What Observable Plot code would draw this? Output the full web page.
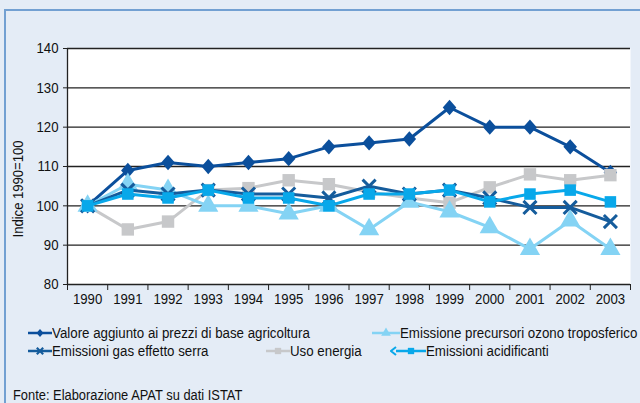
<!DOCTYPE html>
<html><head><meta charset="utf-8">
<script src="https://cdn.jsdelivr.net/npm/d3@7"></script>
<script src="https://cdn.jsdelivr.net/npm/@observablehq/plot@0.6"></script>
<style>
body{margin:0;background:#e4ecf6;width:640px;height:403px;overflow:hidden;position:relative;font-family:"Liberation Sans",Arial,sans-serif;color:#111;}
#frame{position:absolute;left:4px;top:9px;right:0;bottom:0;border-left:2px solid #72a0d2;border-top:2px solid #72a0d2;}
#chart{position:absolute;left:0;top:0;}
.lab{position:absolute;font-size:14px;white-space:nowrap;line-height:16px;transform-origin:0 50%;transform:scaleX(0.95);}
#fonte{transform:scaleX(0.92);}
.sw{position:absolute;}
#ytitle{position:absolute;left:18px;top:189px;transform:translate(-50%,-50%) rotate(-90deg) scaleX(0.9);font-size:14.5px;white-space:nowrap;}
</style></head>
<body>
<div id="frame"></div>
<div id="chart"></div>
<div id="ytitle">Indice 1990=100</div>
<div id="legend"></div>
<div class="lab" id="fonte" style="left:13px;top:387px;">Fonte: Elaborazione APAT su dati ISTAT</div>
<script>
const years = [1990,1991,1992,1993,1994,1995,1996,1997,1998,1999,2000,2001,2002,2003];
const valoreAggiunto = [100,109,111,110,111,112,115,116,117,125,120,120,115,108.5];
const gasSerra = [100,104,103,104,103,103,102,105,103,104,102,99.6,99.6,96];
const usoEnergia = [100,94,96,104,104.5,106.5,105.5,103.5,102,100.8,104.7,108,106.5,107.8];
const ozono = [100,105.5,104,100,100,98,100,94,101,98.5,94.5,89,96.2,89];
const acidificanti = [100,103,102,104,102,102,100,103,103,104,101,103,104,101];
const yTicks = [80,90,100,110,120,130,140];

// rhombus marker closer to the reference (wider than d3's diamond)
const rhombus = {draw(ctx, size) {
  const h = Math.sqrt(size) * 0.62, w = h * 0.88;
  ctx.moveTo(0, -h); ctx.lineTo(w, 0); ctx.lineTo(0, h); ctx.lineTo(-w, 0); ctx.closePath();
}};

const series = [
  {name:"Valore aggiunto ai prezzi di base agricoltura", values:valoreAggiunto, color:"#0b4f9c", symbol:rhombus, r:7},
  {name:"Uso energia", values:usoEnergia, color:"#c7c8ca", symbol:"square", r:7},
  {name:"Emissione precursori ozono troposferico", values:ozono, color:"#84d3f4", symbol:"triangle", r:7.5},
  {name:"Emissioni gas effetto serra", values:gasSerra, color:"#155c9c", symbol:"times", r:6},
  {name:"Emissioni acidificanti", values:acidificanti, color:"#08a8ea", symbol:"square", r:6.5}
];
const rows = series.flatMap(s => s.values.map((v,i) => ({series:s.name, year:years[i], value:v})));
const bounds = d3.range(years[0]-0.5, years[years.length-1]+1, 1);

const marks = [
  Plot.frame({fill:"white", stroke:null}),
  Plot.ruleY(yTicks.filter(t => t > 80), {stroke:"#222", strokeWidth:1.3}),
  Plot.axisY({ticks:yTicks, tickSize:4, tickPadding:5, label:null, stroke:"#222", fontSize:15}),
  Plot.axisX({ticks:bounds, tickSize:6, tickFormat:() => "", label:null, stroke:"#222"}),
  Plot.axisX({ticks:years, tickSize:0, tickPadding:9, tickFormat:d => String(d), label:null, fontSize:15}),
  Plot.ruleY([80], {stroke:"#222", strokeWidth:1.3}),
  Plot.ruleX([bounds[0]], {stroke:"#222", strokeWidth:1.3})
];
for (const s of series) {
  const data = rows.filter(d => d.series === s.name);
  marks.push(Plot.line(data, {x:"year", y:"value", stroke:s.color, strokeWidth:3}));
  if (s.symbol === "times")
    marks.push(Plot.dot(data, {x:"year", y:"value", symbol:"times", stroke:s.color, strokeWidth:3, r:s.r}));
  else
    marks.push(Plot.dot(data, {x:"year", y:"value", symbol:s.symbol, fill:s.color, stroke:null, r:s.r}));
}

const chart = Plot.plot({
  width:640, height:308,
  marginTop:48, marginBottom:24, marginLeft:67, marginRight:10,
  x:{domain:[bounds[0], bounds[bounds.length-1]]},
  y:{domain:[80,140]},
  style:{background:"transparent", fontFamily:"'Liberation Sans',Arial,sans-serif", fontSize:"15px", color:"#111"},
  marks
});
// condense the tick labels horizontally (reference uses a condensed face)
chart.querySelectorAll('g[aria-label$="tick label"] text').forEach(t => {
  const tr = t.getAttribute("transform");
  if (tr) t.setAttribute("transform", tr + " scale(0.88,1)");
  else {
    const x = +(t.getAttribute("x") || 0);
    t.setAttribute("transform", `translate(${x},0) scale(0.88,1) translate(${-x},0)`);
  }
});
document.getElementById("chart").append(chart);

// legend
const legendItems = [
  {s:series[0], x:28, y:333, tx:52},
  {s:series[2], x:372, y:333, tx:400},
  {s:series[3], x:28, y:351, tx:52},
  {s:series[1], x:266, y:351, tx:290},
  {s:series[4], x:390, y:351, tx:426, arrow:true}
];
const leg = document.getElementById("legend");
for (const it of legendItems) {
  const w = it.tx - it.x;
  const svg = d3.create("svg").attr("class","sw").attr("width",w).attr("height",12)
    .style("left", it.x + "px").style("top", (it.y - 6) + "px");
  svg.append("line").attr("x1", it.arrow ? 6 : 0).attr("x2", w).attr("y1",6).attr("y2",6)
    .attr("stroke", it.s.color).attr("stroke-width", 2.5);
  if (it.arrow) svg.append("path").attr("d","M6,2 L1,6 L6,10").attr("fill","none").attr("stroke",it.s.color).attr("stroke-width",2);
  const type = it.s.symbol === rhombus ? rhombus : it.s.symbol === "square" ? d3.symbolSquare : it.s.symbol === "triangle" ? d3.symbolTriangle : d3.symbolTimes;
  const sym = d3.symbol().type(type).size(it.s.symbol === "times" ? 28 : 40);
  const p = svg.append("path").attr("d", sym()).attr("transform", `translate(${w/2 + (it.arrow?3:0)},6)`);
  if (it.s.symbol === "times") p.attr("fill","none").attr("stroke",it.s.color).attr("stroke-width",2.2);
  else p.attr("fill", it.s.color);
  leg.append(svg.node());
  const t = document.createElement("div");
  t.className = "lab"; t.textContent = it.s.name;
  t.style.left = it.tx + "px"; t.style.top = (it.y - 8) + "px";
  leg.append(t);
}
</script>
</body></html>
